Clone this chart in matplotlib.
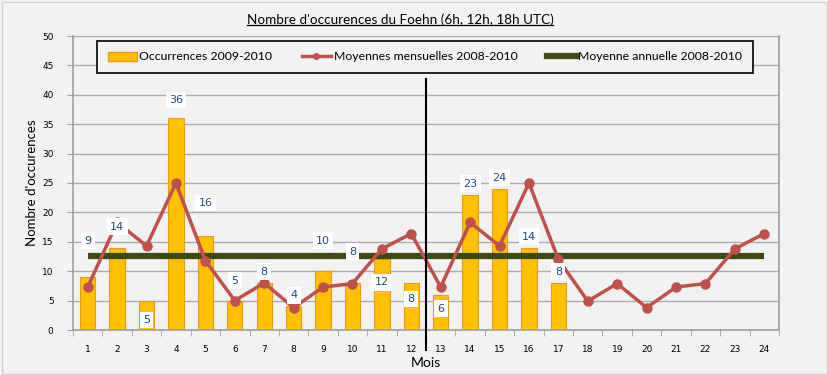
import matplotlib
matplotlib.use("Agg")
import matplotlib.pyplot as plt
from matplotlib.patches import Rectangle
from matplotlib.lines import Line2D
from matplotlib.patches import Patch
import matplotlib.transforms as mtransforms

months = list(range(1, 25))
occ_months = list(range(1, 18))
occurrences = [9, 14, 5, 36, 16, 5, 8, 4, 10, 8, 12, 8, 6, 23, 24, 14, 8]
monthly_mean = [7.3, 18.3, 14.3, 25.0, 11.8, 5.0, 8.0, 3.8, 7.3, 7.9, 13.8, 16.4,
                7.3, 18.3, 14.3, 25.0, 12.0, 4.9, 7.9, 3.8, 7.3, 7.9, 13.8, 16.4]
annual_mean = 12.6
# data-label vertical placement (as in the source chart)
label_y = [15.2, 17.6, 1.7, 39.1, 21.6, 8.4, 9.9, 5.9, 15.2, 13.3, 8.1, 5.3,
           3.6, 24.9, 25.9, 15.9, 9.9]

title = "Nombre d'occurences du Foehn (6h, 12h, 18h UTC)"
ylabel = "Nombre d'occurences"
xlabel = "Mois"
leg_labels = ["Occurrences 2009-2010", "Moyennes mensuelles 2008-2010",
              "Moyenne annuelle 2008-2010"]

BG = "#f2f2f2"
FONT = ["Lato", "DejaVu Sans"]
TICKFONT = ["DejaVu Sans"]

fig = plt.figure(figsize=(8.29, 3.75), dpi=100, facecolor=BG)
fig.patches.append(Rectangle((0.002, 0.004), 0.996, 0.992, transform=fig.transFigure,
                             fill=False, edgecolor="#d0d0d0", lw=1))
ax = fig.add_axes([73 / 829, 1 - 330 / 375, 706 / 829, 294 / 375])
ax.set_facecolor(BG)

ax.set_xlim(0.5, 24.5)
ax.set_ylim(0, 50)
ax.set_yticks(range(0, 51, 5))
ax.yaxis.grid(True, color="#ababab", lw=1)
ax.set_axisbelow(True)

ax.bar(occ_months, occurrences, width=0.52, color="#FFC000", edgecolor="#E69A1E",
       lw=0.8, zorder=2)
ax.plot(months, [annual_mean] * len(months), color="#3B4A12", lw=4.5,
        solid_capstyle="butt", zorder=3)
ax.plot(months, monthly_mean, color="#C0504D", lw=2.5, marker="o", ms=6.5,
        zorder=4)

for m, v, ly in zip(occ_months, occurrences, label_y):
    ax.text(m, ly, str(v), ha="center", va="center", fontsize=8,
            color="#1F497D", family=TICKFONT, zorder=6,
            bbox=dict(boxstyle="square,pad=0.3", fc="white", ec="none"))

# vertical separator between the two years
trans = mtransforms.blended_transform_factory(ax.transData, ax.transAxes)
ax.plot([12.5, 12.5], [-0.068, 0.855], transform=trans, color="black", lw=1.5,
        clip_on=False, zorder=7)

for s in ["left", "bottom", "right"]:
    ax.spines[s].set_color("#a0a0a0")
    ax.spines[s].set_linewidth(1.2)
ax.spines["top"].set_visible(False)

ax.set_xticks(months)
ax.set_xticklabels([str(m) for m in months], fontsize=6.5, family=TICKFONT)
ax.set_xticks([m + 0.5 for m in range(0, 25)], minor=True)
ax.tick_params(axis="x", which="major", length=0, pad=11)
ax.tick_params(axis="x", which="minor", length=4, color="#a0a0a0")
ax.tick_params(axis="y", length=4, color="#a0a0a0", labelsize=6.5, pad=10)
for t in ax.get_yticklabels():
    t.set_family(TICKFONT)

ax.set_xlabel(xlabel, fontsize=10, family=FONT, labelpad=2)
ax.set_ylabel(ylabel, fontsize=9.5, family=FONT, labelpad=3)
tt = fig.text(400 / 829, 1 - 20 / 375, title, ha="center", va="center",
              fontsize=9.7, family=FONT)
# underline title
fig.canvas.draw()
bb = tt.get_window_extent()
inv = fig.transFigure.inverted()
(x0, y0), (x1, y1) = inv.transform([[bb.x0, bb.y0], [bb.x1, bb.y1]])
fig.add_artist(Line2D([x0, x1], [y0 + 0.004, y0 + 0.004], transform=fig.transFigure,
                      color="black", lw=0.9))

handles = [Patch(facecolor="#FFC000", edgecolor="#E69A1E"),
           Line2D([], [], color="#C0504D", lw=2.5, marker="o", ms=4),
           Line2D([], [], color="#3B4A12", lw=4.5)]
leg = ax.legend(handles, leg_labels, ncol=3, loc="center",
                bbox_to_anchor=((425 - 73) / 706, (330 - 57) / 294),
                frameon=True, fancybox=False, framealpha=1,
                facecolor=BG, edgecolor="black", prop={"family": FONT, "size": 8.8},
                handlelength=2.4, handletextpad=0.2, columnspacing=2.4,
                borderpad=0.85, borderaxespad=0)
leg.get_frame().set_linewidth(1.2)
leg.set_zorder(8)

fig.savefig("out.png", dpi=100, facecolor=BG)
